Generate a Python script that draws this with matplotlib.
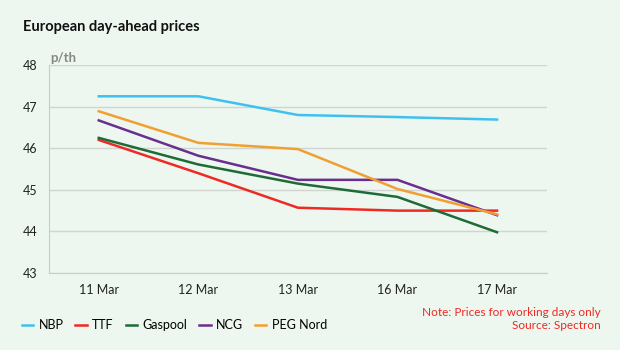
import matplotlib.pyplot as plt
import numpy as np

dates = ['11 Mar', '12 Mar', '13 Mar', '16 Mar', '17 Mar']
nbp = [47.25, 47.25, 46.80, 46.75, 46.69]
ttf = [46.20, 45.40, 44.57, 44.50, 44.50]
gaspool = [46.25, 45.61, 45.15, 44.83, 43.98]
ncg = [46.67, 45.82, 45.24, 45.24, 44.39]
peg_nord = [46.89, 46.13, 45.98, 45.02, 44.41]

series = [('NBP', nbp, '#3fc1f0'),
          ('TTF', ttf, '#ee2a24'),
          ('Gaspool', gaspool, '#1e6b38'),
          ('NCG', ncg, '#6a2e8e'),
          ('PEG Nord', peg_nord, '#f0a030')]

bg = '#edf6ef'
plt.rcParams['font.family'] = ['Lato', 'DejaVu Sans']

fig = plt.figure(figsize=(6.2, 3.5), dpi=100, facecolor=bg)
ax = fig.add_axes([0.079, 0.22, 0.803, 0.594], facecolor=bg)

xs = np.arange(len(dates))
for name, vals, col in series:
    ax.plot(xs, vals, color=col, linewidth=1.8, label=name)

ax.set_xlim(-0.5, 4.5)
ax.set_ylim(43, 48)
ax.set_yticks(np.arange(43, 49, 1))
ax.set_xticks(xs)
ax.set_xticklabels(dates)
ax.grid(axis='y', color='#d0d5d2', linewidth=1)
ax.set_axisbelow(True)
ax.tick_params(length=0, labelsize=9, colors='#222222', pad=8)
for s in ['top', 'right']:
    ax.spines[s].set_visible(False)
for s in ['left', 'bottom']:
    ax.spines[s].set_color('#c8cdca')

fig.text(0.037, 0.922, 'European day-ahead prices', fontsize=10.5, fontweight='bold', color='#111111', va='center')
fig.text(0.081, 0.835, 'p/th', fontsize=9.5, fontweight='bold', color='#888888', va='center')

leg = fig.legend(loc='center left', bbox_to_anchor=(0.035, 0.071), ncol=5, frameon=False,
                 fontsize=9, handlelength=0.9, handletextpad=0.45, columnspacing=0.95,
                 borderaxespad=0, borderpad=0)

fig.text(0.969, 0.106, 'Note: Prices for working days only', fontsize=8.5, color='#ee2a24', ha='right', va='center')
fig.text(0.969, 0.071, 'Source: Spectron', fontsize=8.5, color='#ee2a24', ha='right', va='center')

fig.savefig('out.png', dpi=100, facecolor=bg)
